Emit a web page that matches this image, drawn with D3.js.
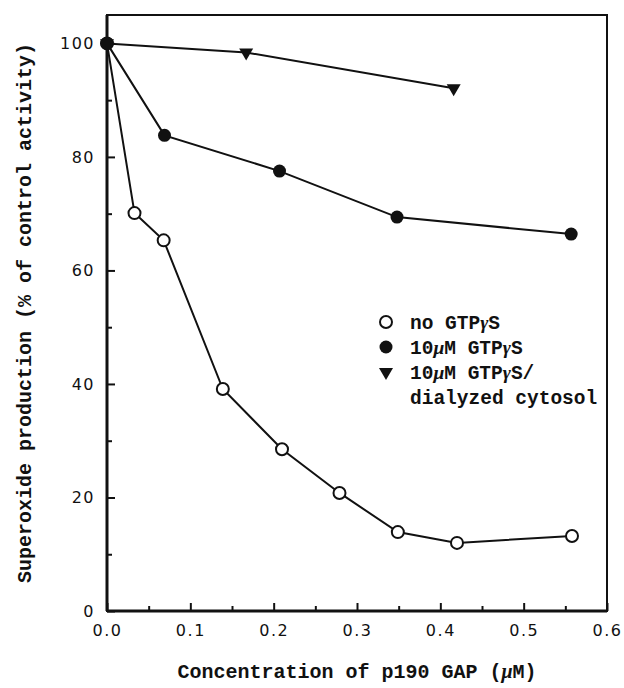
<!DOCTYPE html>
<html>
<head>
<meta charset="utf-8">
<script src="https://cdn.jsdelivr.net/npm/d3@7"></script>
<style>
  body { margin: 0; background: #fff; }
  .tick text { font-family: "DejaVu Sans", sans-serif; font-size: 16px; letter-spacing: 1.5px; fill: #111; }
  .tick line { stroke: #111; stroke-width: 2; }
  .title, .legend-text { font-family: "Liberation Mono", monospace; font-weight: bold; fill: #111; }
</style>
</head>
<body>
<svg id="chart" width="624" height="688"></svg>
<script>
// concentration of p190 GAP (uM)
const noGtpX = [0, 0.033, 0.068, 0.139, 0.21, 0.279, 0.349, 0.42, 0.558];
const noGtpY = [100, 70.1, 65.3, 39.1, 28.5, 20.8, 13.9, 12.0, 13.2];
const gtpX = [0, 0.069, 0.207, 0.348, 0.557];
const gtpY = [100, 83.8, 77.5, 69.4, 66.4];
const dialyzedX = [0, 0.167, 0.416];
const dialyzedY = [100, 98.4, 92.1];

const xMajor = [0, 0.1, 0.2, 0.3, 0.4, 0.5, 0.6];
const xMinor = [0.05, 0.15, 0.25, 0.35, 0.45, 0.55];
const yMajor = [0, 20, 40, 60, 80, 100];
const yMinor = [10, 30, 50, 70, 90];

const legendLabels = ["no GTPγS", "10μM GTPγS", "10μM GTPγS/", "dialyzed cytosol"];

const svg = d3.select("#chart");
const plotL = 107, plotR = 607, plotT = 15, plotB = 611;

var x = d3.scaleLinear().domain([0, 0.6]).range([plotL, plotR]);
var y = d3.scaleLinear().domain([0, 105]).range([plotB, plotT]);

// axes: ticks point into the plot
svg.append("g").attr("transform", `translate(0,${plotB})`)
  .call(d3.axisBottom(x).tickValues(xMajor).tickFormat(d3.format(".1f")).tickSizeInner(-8).tickSizeOuter(0).tickPadding(14))
  .call(g => g.select(".domain").remove())
  .call(g => g.selectAll(".tick text").attr("dy", "0.71em"));
svg.append("g").attr("transform", `translate(0,${plotB})`)
  .call(d3.axisBottom(x).tickValues(xMinor).tickFormat("").tickSizeInner(-5).tickSizeOuter(0))
  .call(g => g.select(".domain").remove());

svg.append("g").attr("transform", `translate(${plotL},0)`)
  .call(d3.axisLeft(y).tickValues(yMajor).tickFormat(d3.format("d")).tickSizeInner(-8).tickSizeOuter(0).tickPadding(12))
  .call(g => g.select(".domain").remove());
svg.append("g").attr("transform", `translate(${plotL},0)`)
  .call(d3.axisLeft(y).tickValues(yMinor).tickFormat("").tickSizeInner(-5).tickSizeOuter(0))
  .call(g => g.select(".domain").remove());

// frame
svg.append("rect")
  .attr("x", plotL).attr("y", plotT)
  .attr("width", plotR - plotL).attr("height", plotB - plotT)
  .attr("fill", "none").attr("stroke", "#111").attr("stroke-width", 2);
svg.append("line").attr("x1", plotL).attr("x2", plotL).attr("y1", plotT).attr("y2", plotB)
  .attr("stroke", "#111").attr("stroke-width", 3);
svg.append("line").attr("x1", plotL).attr("x2", plotR).attr("y1", plotB).attr("y2", plotB)
  .attr("stroke", "#111").attr("stroke-width", 3);

// series
var line = d3.line().x(d => x(d[0])).y(d => y(d[1]));
const series = [
  { xs: dialyzedX, ys: dialyzedY, sym: "tri" },
  { xs: noGtpX, ys: noGtpY, sym: "open" },
  { xs: gtpX, ys: gtpY, sym: "filled" }
];
series.forEach(s => {
  s.pts = s.xs.map((v, i) => [v, s.ys[i]]);
  svg.append("path").datum(s.pts).attr("d", line)
    .attr("fill", "none").attr("stroke", "#111").attr("stroke-width", 2);
});

const triangle = d3.symbol().type(d3.symbolTriangle).size(85);
function marker(g, sym, cx, cy) {
  if (sym === "tri") {
    g.append("path").attr("d", triangle())
      .attr("transform", `translate(${cx},${cy}) rotate(180)`)
      .attr("fill", "#111");
  } else if (sym === "open") {
    g.append("circle").attr("cx", cx).attr("cy", cy).attr("r", 6)
      .attr("fill", "#fff").attr("stroke", "#111").attr("stroke-width", 2);
  } else {
    g.append("circle").attr("cx", cx).attr("cy", cy).attr("r", 6.5).attr("fill", "#111");
  }
}
const marks = svg.append("g");
series.forEach(s => s.pts.forEach(p => marker(marks, s.sym, x(p[0]), y(p[1]))));

// axis titles
const xTitle = svg.append("text").attr("class", "title")
  .attr("x", (plotL + plotR) / 2).attr("y", 678)
  .attr("text-anchor", "middle").attr("font-size", 20);
xTitle.append("tspan").text("Concentration of p190 GAP (");
xTitle.append("tspan").attr("font-style", "italic").attr("font-family", "Liberation Serif").text("μ");
xTitle.append("tspan").text("M)");

svg.append("text").attr("class", "title")
  .attr("transform", `translate(31,${(plotT + plotB) / 2}) rotate(-90)`)
  .attr("text-anchor", "middle").attr("font-size", 20)
  .text("Superoxide production (% of control activity)");

// legend
const legend = svg.append("g").attr("transform", "translate(386,322)");
const legendSyms = ["open", "filled", "tri", null];
legendLabels.forEach((label, i) => {
  const ly = i * 25;
  if (legendSyms[i]) marker(legend, legendSyms[i], 0, ly);
  const t = legend.append("text").attr("class", "legend-text")
    .attr("x", 24).attr("y", ly).attr("dy", "0.35em").attr("font-size", 19.5);
  // italic greek letters like the original
  label.split(/([μγ])/).forEach(part => {
    if (!part) return;
    const span = t.append("tspan").text(part);
    if (part === "μ" || part === "γ") span.attr("font-style", "italic").attr("font-family", "Liberation Serif");
  });
});
</script>
</body>
</html>
